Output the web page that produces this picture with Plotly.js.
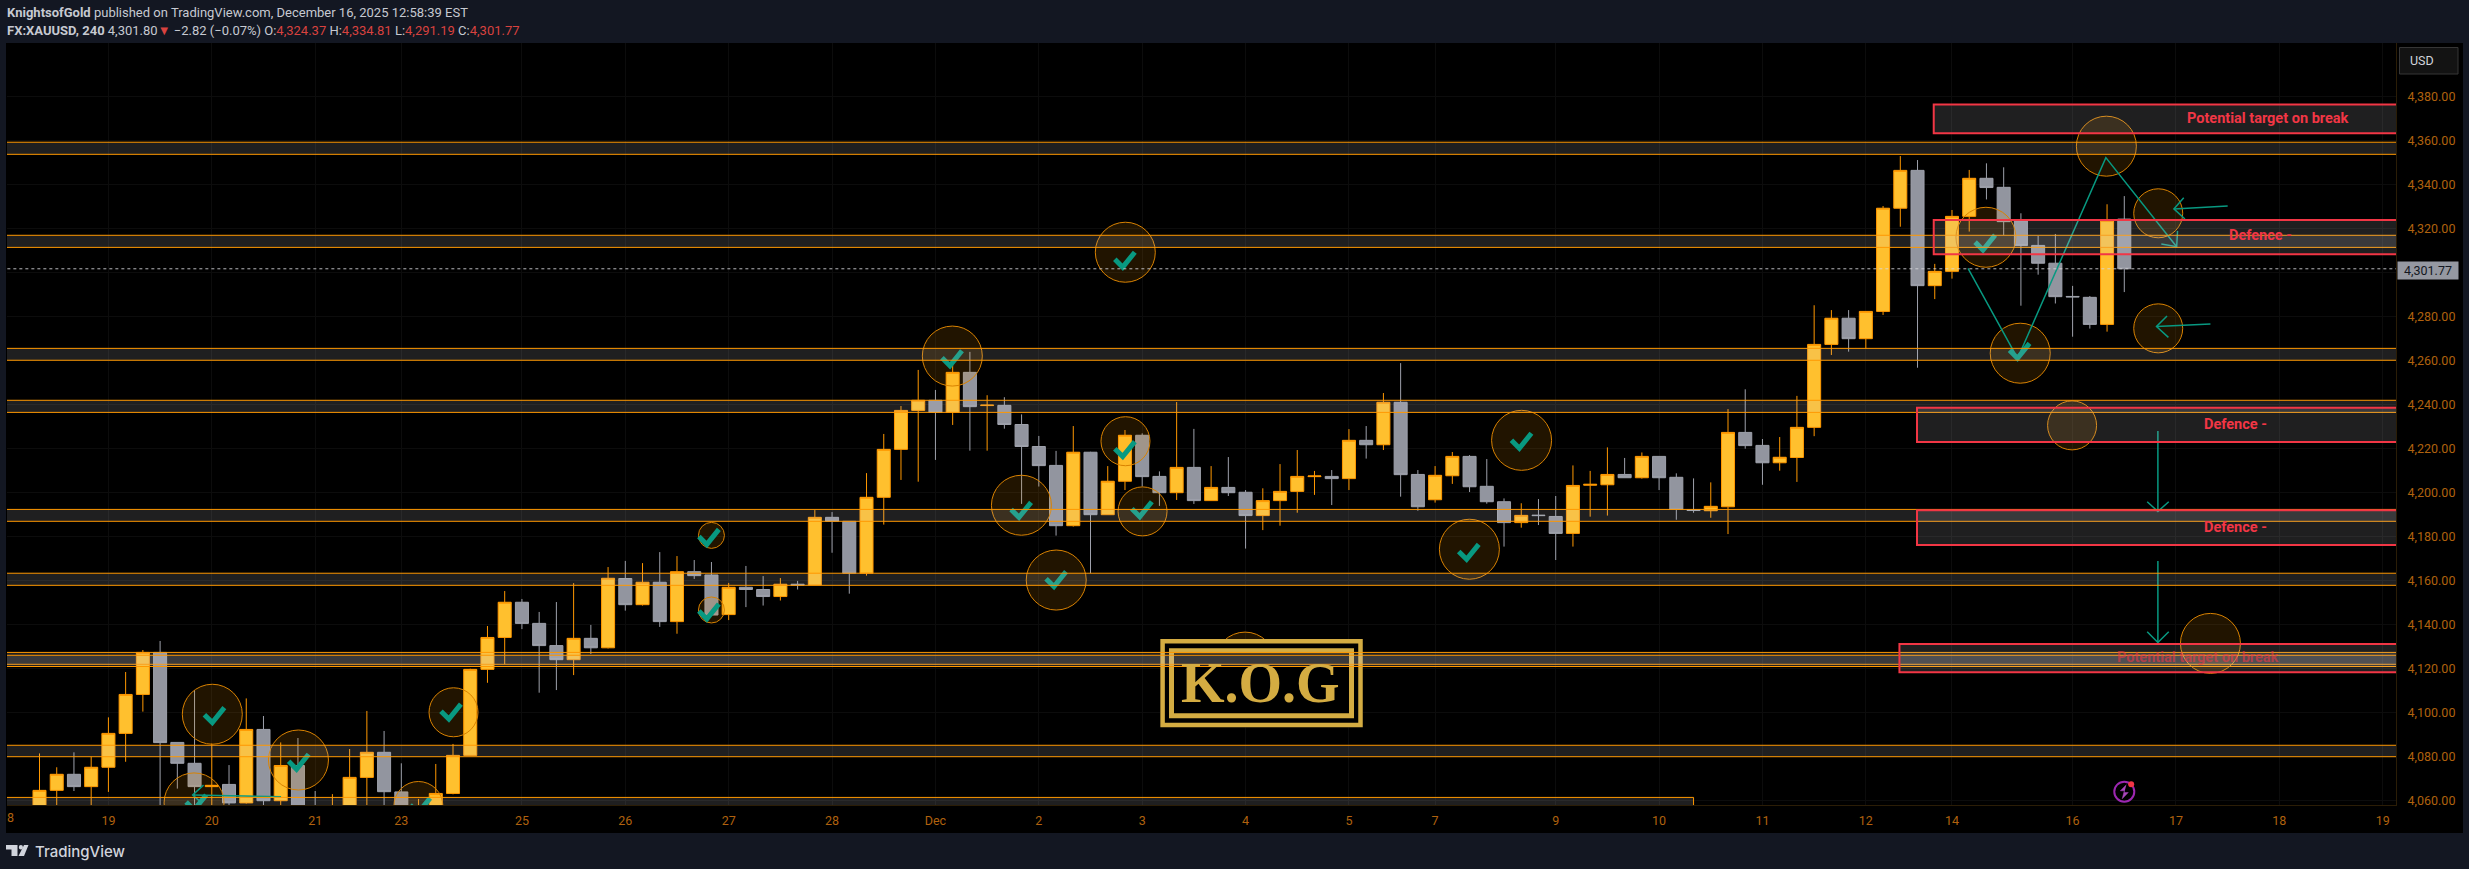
<!DOCTYPE html>
<html>
<head>
<meta charset="utf-8">
<script src="https://cdn.plot.ly/plotly-3.0.1.min.js"></script>
<style>html,body{margin:0;padding:0;background:#131722;overflow:hidden}#chart{width:2469px;height:869px}</style>
</head>
<body>
<div id="chart"></div>
<script>
// --- candle series (4h bars, XAUUSD) ---
const opens = [4055,4064.7,4072,4066.4,4075.2,4090.6,4108.3,4127.4,4086.5,4077,4066.4,4067.4,4059,4092.4,4060,4076,4052,4048,4050,4070.6,4082,4064,4050,4054,4063.3,4080.6,4119.7,4134.2,4150.2,4140.6,4130.5,4124.1,4133.8,4129.5,4161,4149.1,4159.3,4141.4,4164.1,4162.6,4144.6,4157,4156,4152.8,4158.4,4158,4188.8,4187,4163.4,4197.9,4219.7,4237.4,4242,4236.5,4254.7,4239.6,4239.7,4231,4221,4212.4,4185,4218.4,4190,4205.2,4226.1,4207.4,4200,4211.5,4196.4,4202.4,4200.2,4189.6,4196.4,4200.6,4207.3,4207.4,4206.4,4223.8,4221.8,4241.1,4208.3,4196.8,4207.7,4216.5,4202.9,4195.9,4186.4,4189.8,4189.2,4181.5,4203.4,4203.6,4208.3,4206.8,4216.5,4207,4192.2,4191.8,4193.6,4227.4,4221.5,4213.6,4216,4229.7,4267.4,4279.3,4270,4282.4,4329.3,4346.5,4294.1,4300.6,4325.6,4342.9,4338.8,4323.5,4312.4,4304.3,4289.2,4288.8,4276.5,4324.37];
const highs = [4081.5,4075.2,4082,4080,4097.9,4118.5,4128.5,4132.6,4086.5,4110.3,4086,4076.2,4106.5,4098.5,4086.5,4088.5,4064.4,4063,4083.5,4100.8,4091.7,4077,4060.8,4076.7,4085.8,4120,4139.4,4155.3,4151.7,4145.8,4150.3,4158.9,4139.9,4166.2,4169,4168,4173,4171.2,4169.4,4168.5,4159,4166.7,4162.1,4161.2,4159.9,4192.1,4191.2,4187,4208.9,4226.7,4239.4,4255.8,4246.7,4258,4264,4244.3,4243.4,4235.6,4225.8,4219,4230.3,4218.6,4212.1,4228.5,4227,4209.7,4241.2,4229,4212.1,4216.2,4201.2,4202,4213,4219.4,4209.9,4210.3,4228.9,4230.3,4245.3,4258.9,4210.3,4212.1,4218.5,4217.1,4215.3,4197.4,4195.2,4197.1,4198.5,4212.4,4209.9,4220.6,4215.8,4218.3,4216.5,4208.8,4206.5,4204.7,4238,4247,4224.4,4225.3,4244,4285.2,4283,4283,4282.4,4330.3,4353,4351.2,4304,4328.5,4346.7,4349.7,4347.9,4327,4316.7,4317.6,4294,4289.4,4331.1,4334.81];
const lows = [4050,4056,4064.4,4056,4064,4077.7,4100.5,4055,4065.5,4052,4056,4056,4058.7,4057,4056,4050,4048,4044,4047,4052,4052,4050,4046,4050,4062.9,4080.6,4113.6,4122.1,4138,4109.1,4110.3,4117.1,4126.7,4129.2,4146.4,4148.7,4139,4135.9,4160.8,4144.4,4142.1,4148,4148.7,4151,4156,4158,4172.7,4154.1,4162.3,4185.5,4205.8,4205,4214.9,4230.8,4219.1,4219.1,4229.1,4194.9,4202.8,4180.5,4184.6,4163.4,4190,4201.2,4202.8,4194,4196.7,4194.9,4196.4,4198.5,4174.6,4183,4185,4190.9,4199,4194.4,4201.2,4215.5,4219.4,4198.2,4191.8,4195.5,4204,4200.3,4195,4175.5,4184.1,4185.3,4169.4,4175.5,4189.1,4189.6,4206.8,4206.4,4201.2,4187.7,4190.9,4188.6,4181.2,4220,4203.6,4210,4204.9,4225.7,4262.6,4264.1,4265.6,4280.8,4320.9,4256.8,4288,4297.3,4318.7,4333.3,4317.1,4285,4299.1,4286,4270.9,4274.6,4273.2,4291.19];
const closes = [4064.7,4072,4066.4,4075.2,4090.6,4108.3,4127.4,4086.4,4077,4066.4,4067,4059,4092.4,4060,4076,4052,4049,4052,4070.6,4082,4064.1,4053,4055,4063.3,4080.6,4119.7,4134.2,4150.2,4140.6,4130.5,4124.1,4133.8,4129.5,4161.1,4149.1,4159.3,4141.4,4164.1,4162.3,4144.4,4157,4156,4152.8,4158.4,4158,4188.8,4187,4163.4,4197.9,4219.7,4237.4,4242,4236.5,4254.7,4239.1,4239.8,4231,4221,4212.3,4185,4218.4,4190,4205.2,4226.1,4207.3,4200,4211.5,4196.4,4202.4,4200,4189.6,4196.4,4200.6,4207.4,4207.6,4206.4,4223.8,4221.8,4241.1,4208.2,4193.6,4207.9,4216.5,4202.7,4195.9,4186.4,4189.7,4189.6,4181.5,4203.3,4203.8,4208.3,4206.8,4216.5,4206.8,4192.4,4191.9,4193.8,4227.4,4221.4,4213.6,4216.1,4229.7,4267.4,4279.3,4270,4282.4,4329.3,4346.5,4294.1,4300.6,4325.6,4342.9,4338.7,4323.2,4312.3,4304.3,4289.1,4289,4276.5,4323.7,4301.77];
const bars = opens.map((_, i) => i);
const lastPrice = 4301.77;

// --- axes ---
const xTickBars   = [4,10,16,21,28,34,40,46,52,58,64,70,76,81,88,94,100,106,111,118,124,130,136];
const xTickLabels = ['19','20','21','23','25','26','27','28','Dec','2','3','4','5','7','9','10','11','12','14','16','17','18','19'];
const yTickPrices = [4060,4080,4100,4120,4140,4160,4180,4200,4220,4240,4260,4280,4300,4320,4340,4360,4380];
const yTickLabels = yTickPrices.map(p => p.toLocaleString('en-US',{minimumFractionDigits:2}));

// --- support / resistance zones (top, bottom prices) ---
const zoneTops    = [4359.3,4317,4265.6,4242,4192.4,4163.4,4127.4,4126.1,4085.2];
const zoneBottoms = [4353.8,4311.5,4260.2,4236.5,4187,4157.9,4122,4121,4080];
const shortZone   = {top:4061.5, bottom:4056, endBar:96};

// --- red boxes ---
const boxStartBars = [109.94,109.94,108.97,108.97,107.95];
const boxTops      = [4376.4,4324,4238.6,4192,4131.2];
const boxBottoms   = [4363.4,4308.4,4223,4176.2,4118.4];
const boxLabels    = ['Potential target on break','Defence -','Defence -','Defence -','Potential target on break'];
const boxLabelBars = [129.32,128.9,127.46,127.46,125.3];
const boxLabelPrices = [4369.9,4316.7,4230.9,4184.1,4124.9];

// --- circled levels, grouped by ring size ---
const ringBarsL   = [10.03,15.03,8.97,52.98,56.99,59.01,86.02,82.99,69.97,112.97,114.96,119.96,126,63.02];
const ringPricesL = [4099.3,4078.5,4059,4262.1,4194.3,4160.3,4223.8,4174.3,4123,4316.1,4263.4,4357.5,4131.5,4309.3];
const ringBarsM   = [24.03,21.99,63.03,64.02,122.97,122.97,117.97];
const ringPricesM = [4100.2,4057.6,4223.4,4191.5,4327,4274.7,4230.6];
const ringBarsS   = [39,39];
const ringPricesS = [4180.6,4146.7];

// --- check marks (bottom of the tick) ---
const checkBars   = [10.03,14.92,23.76,8.97,21.97,52.84,38.73,38.73,56.85,58.88,62.87,63.86,85.89,82.83,112.8,114.8,62.87];
const checkPrices = [4095.5,4074.3,4097.1,4055.8,4054.4,4257.7,4176.5,4142.6,4188.8,4157.3,4216.4,4189.1,4220.2,4169.7,4310.3,4261.1,4302.5];

// --- hand-drawn teal paths ---
const pathBars   = [111.93,114.81,119.93,124.04,null,124.09,124.04,123.15,null, 127,123.88,null,124.45,123.88,124.52,null, 126,122.87,null,123.48,122.87,123.56,null, 122.95,122.95,null,122.33,122.95,123.58,null, 122.95,122.95,null,122.33,122.95,123.58,null, 14.02,8.89,null,9.52,8.89,9.41];
const pathPrices = [4302,4261.1,4352.3,4311.8,null,4319,4311.8,4313,null, 4330.3,4329,null,4334.1,4329,4324.4,null, 4276.7,4275.5,null,4280.3,4275.5,4270.6,null, 4228,4191.5,null,4195.9,4191.5,4195.9,null, 4169,4131.9,null,4136.8,4131.9,4136.8,null, 4061.8,4062.6,null,4067.1,4062.6,4059];

// --- flash marker on the last bar ---
const boltBars   = [121.12,120.77,121,120.88,121.23,121];
const boltPrices = [4067.3,4064.5,4064.5,4060.9,4063.7,4063.7];

const ORANGE='#FF9800', GOLD='#FFC02E', TEAL='#089981', RED='#F23645', AXIS='#B0620E';
const PL=7, PR=2396, PT=43, PB=805;
const px = x => (x-PL)/(PR-PL);
const py = y => (PB-y)/(PB-PT);

const ringTrace = (xs, ys, size) => ({
  type:'scatter', mode:'markers', x:xs, y:ys, hoverinfo:'skip', showlegend:false,
  marker:{symbol:'circle', size:size, color:'rgba(255,152,0,0.13)', line:{color:'#D98200', width:1}}
});

const traces = [
  {type:'candlestick', x:bars, open:opens, high:highs, low:lows, close:closes, showlegend:false,
   whiskerwidth:0, hoverinfo:'skip',
   increasing:{line:{color:ORANGE,width:1}, fillcolor:GOLD},
   decreasing:{line:{color:'#9EA1AB',width:1}, fillcolor:'#92959F'}},
  ringTrace(ringBarsL, ringPricesL, 60),
  ringTrace(ringBarsM, ringPricesM, 49),
  ringTrace(ringBarsS, ringPricesS, 26),
  {type:'scatter', mode:'lines', x:pathBars, y:pathPrices, hoverinfo:'skip', showlegend:false, connectgaps:false,
   line:{color:TEAL, width:1.5}},
  {type:'scatter', mode:'lines', hoverinfo:'skip', showlegend:false,
   x:checkBars.flatMap(b=>[b-0.46,b,b+0.70,null]),
   y:checkPrices.flatMap(p=>[p+3.6,p,p+6.8,null]),
   line:{color:TEAL, width:5}},
  {type:'scatter', mode:'lines', x:boltBars, y:boltPrices, fill:'toself', fillcolor:'#AB47BC', hoverinfo:'skip', showlegend:false,
   line:{color:'#AB47BC', width:0.5}},
  {type:'scatter', mode:'markers', x:[121], y:[4064.1], hoverinfo:'skip', showlegend:false,
   marker:{symbol:'circle-open', size:20, color:'#9C27B0', line:{color:'#9C27B0', width:2}}},
  {type:'scatter', mode:'markers', x:[121.4], y:[4067.5], hoverinfo:'skip', showlegend:false,
   marker:{symbol:'circle', size:6, color:RED}}
];

const shapes = [];
// black chart panel (plot + axes strips)
shapes.push({type:'rect',layer:'below',xref:'paper',yref:'paper',x0:px(6),x1:px(2463),y0:py(833),y1:py(43),fillcolor:'#000',line:{width:0}});
// USD box
const ux0=px(2399.5),ux1=px(2458),uy0=py(47.5),uy1=py(74);
shapes.push({type:'rect',xref:'paper',yref:'paper',x0:ux0,x1:ux1,y0:uy0,y1:uy1,fillcolor:'#131313',line:{color:'#363636',width:1}});
// KOG watermark
shapes.push({type:'rect',xref:'paper',yref:'paper',x0:px(1160),x1:px(1363),y0:py(727.5),y1:py(639),fillcolor:'#000',line:{width:0}});
shapes.push({type:'rect',xref:'paper',yref:'paper',x0:px(1162.6),x1:px(1360.5),y0:py(725),y1:py(641.3),fillcolor:'rgba(0,0,0,0)',line:{color:'#D4AC42',width:4.5}});
shapes.push({type:'rect',xref:'paper',yref:'paper',x0:px(1171.5),x1:px(1351.5),y0:py(715.8),y1:py(650.8),fillcolor:'rgba(0,0,0,0)',line:{color:'#D4AC42',width:5}});
// zones
const ZONEFILL='rgba(205,205,215,0.15)';
zoneTops.forEach((t,i)=>{
  shapes.push({type:'rect',xref:'x',yref:'y',x0:-5,x1:145,y0:zoneBottoms[i],y1:t,fillcolor:ZONEFILL,line:{color:ORANGE,width:1}});
});
shapes.push({type:'rect',xref:'x',yref:'y',x0:-5,x1:shortZone.endBar,y0:shortZone.bottom,y1:shortZone.top,fillcolor:ZONEFILL,line:{color:ORANGE,width:1}});
// red boxes
boxTops.forEach((t,i)=>{
  shapes.push({type:'rect',xref:'x',yref:'y',x0:boxStartBars[i],x1:145,y0:boxBottoms[i],y1:t,fillcolor:ZONEFILL,line:{color:RED,width:2}});
});
// last price line
shapes.push({type:'line',xref:'x',yref:'y',x0:-5,x1:145,y0:lastPrice,y1:lastPrice,line:{color:'rgba(215,215,220,0.85)',width:1,dash:'dot'}});
// TradingView mark
const logo=(pts)=>({type:'path',xref:'paper',yref:'paper',fillcolor:'#D1D4DC',line:{width:0},
  path:'M'+pts.map(p=>px(p[0])+','+py(p[1])).join('L')+'Z'});
shapes.push(logo([[6,845],[17.5,845],[17.5,856],[11.5,856],[11.5,849.5],[6,849.5]]));
shapes.push(logo([[24,845],[28.5,845],[24,856],[18.5,856]]));
shapes.push({type:'circle',xref:'paper',yref:'paper',x0:px(18.8),x1:px(23),y0:py(849.4),y1:py(845),fillcolor:'#D1D4DC',line:{width:0}});

const annotations = [];
const pxNote=(x,y,text,font,extra)=>Object.assign({xref:'paper',yref:'paper',x:px(x),y:py(y),text,showarrow:false,xanchor:'left',yanchor:'middle',align:'left',font,borderpad:0},extra||{});
const HF={family:'Roboto, sans-serif',size:13,color:'#C6C9D1'};
const R='<span style="color:#D8423F">', E='</span>';
annotations.push(pxNote(6,12.5,'<b>KnightsofGold</b> published on TradingView.com, December 16, 2025 12:58:39 EST',HF));
annotations.push(pxNote(6,30,'<b>FX:XAUUSD, 240</b> 4,301.80'+R+'▼'+E+' −2.82 (−0.07%) O:'+R+'4,324.37'+E+' H:'+R+'4,334.81'+E+' L:'+R+'4,291.19'+E+' C:'+R+'4,301.77'+E,HF));
annotations.push(pxNote(34,851,'TradingView',{family:'Inter, sans-serif',size:15,color:'#D1D4DC',weight:500}));
annotations.push(pxNote(2409,60.5,'USD',{family:'Roboto, sans-serif',size:12.5,color:'#D1D4DC'}));
annotations.push(pxNote(2396.5,270.4,'4,301.77',{family:'Roboto, sans-serif',size:12.5,color:'#131722'},{bgcolor:'#9598A1',width:60,height:17,align:'center'}));
annotations.push(pxNote(5.5,817.5,'8',{family:'Roboto, sans-serif',size:12.5,color:AXIS}));
annotations.push(pxNote(1260,683,'<b>K.O.G</b>',{family:'Liberation Serif, serif',size:56,color:'#D4AC42'},{xanchor:'center',align:'center'}));
boxLabels.forEach((t,i)=>{
  annotations.push({xref:'x',yref:'y',x:boxLabelBars[i],y:boxLabelPrices[i],text:'<b>'+t+'</b>',showarrow:false,xanchor:'center',yanchor:'middle',
    font:{family:'Roboto, sans-serif',size:14.5,color:i===4?'rgba(242,54,69,0.6)':RED}});
});

const layout = {
  width:2469, height:869, autosize:false,
  paper_bgcolor:'#131722', plot_bgcolor:'#000',
  margin:{l:PL, r:2469-PR, t:PT, b:869-PB, pad:0},
  showlegend:false, dragmode:false, hovermode:false,
  boxgap:0.1, boxgroupgap:0.16,
  xaxis:{type:'linear', range:[-1.886,136.77], rangeslider:{visible:false}, fixedrange:true,
    tickmode:'array', tickvals:xTickBars, ticktext:xTickLabels,
    tickfont:{family:'Roboto, sans-serif',size:12.5,color:AXIS}, ticks:'outside', ticklen:4, tickcolor:'rgba(0,0,0,0)',
    showgrid:true, gridcolor:'#0c0c0c', gridwidth:1, zeroline:false,
    showline:true, linecolor:'#2b1d06', linewidth:1},
  yaxis:{side:'right', range:[4058.05,4404.4], fixedrange:true,
    tickmode:'array', tickvals:yTickPrices, ticktext:yTickLabels,
    tickfont:{family:'Roboto, sans-serif',size:12.5,color:AXIS}, ticks:'outside', ticklen:8, tickcolor:'rgba(0,0,0,0)',
    showgrid:true, gridcolor:'#0c0c0c', gridwidth:1, zeroline:false,
    showline:true, linecolor:'#2b1d06', linewidth:1},
  shapes, annotations
};
Plotly.newPlot('chart', traces, layout, {displayModeBar:false, staticPlot:true});
</script>
</body>
</html>
